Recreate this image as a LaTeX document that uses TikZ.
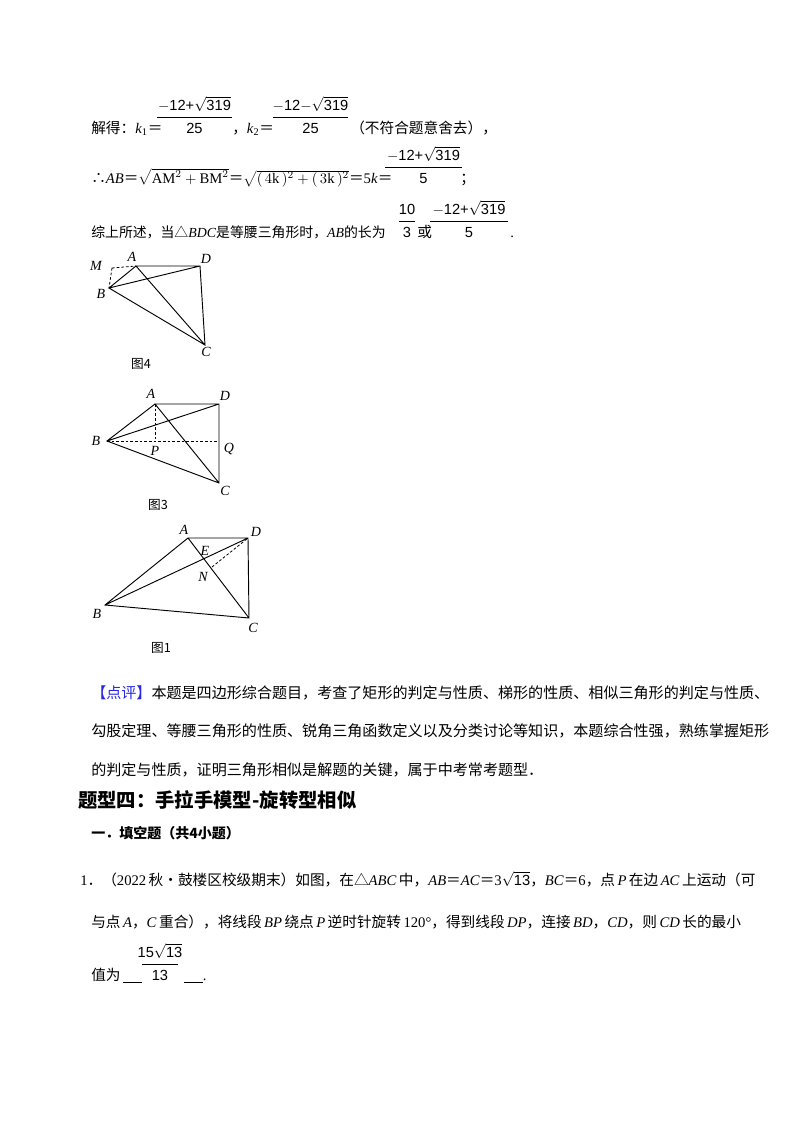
\documentclass[tikz,border=0pt]{standalone}
\usepackage{fontspec}
\setmainfont{Liberation Serif}
\newfontfamily\zh{Noto Sans CJK SC}
\newfontfamily\ar{Liberation Sans}
\usetikzlibrary{calc}
\newcommand\fracat[5]{%
  \node[tx,anchor=base] (n#1) at ({(#1+#2)/2},{#3-23}) {\ar #4};
  \draw[line width=0.6pt] (#1,{#3-16}) -- (#2,{#3-16});
  \node[tx,anchor=base] (d#1) at ({(#1+#2)/2},#3) {\ar #5};}
\newcommand\sq[1]{$\sqrt{\hbox{#1}}$}
\newcommand\tri{{\zh △}}
\begin{document}
\begin{tikzpicture}[x=0.75pt,y=-0.75pt,
  tx/.style={inner sep=0pt,font=\fontsize{11}{13}\selectfont},
  txl/.style={tx,anchor=base west},
  lab/.style={inner sep=0pt,font=\fontsize{10.5}{12}\selectfont\itshape},
  figcap/.style={inner sep=0pt,font=\zh\fontsize{9.5}{11}\selectfont},
  seg/.style={line width=0.7pt},
  dsh/.style={line width=0.6pt,dash pattern=on 2pt off 1.5pt}]
\useasboundingbox (0,0) rectangle (800,1132);
\fill[white] (0,0) rectangle (800,1132);
% line 1
\node[txl] (l1a) at (91,133) {{\zh 解得：}\textit{k}\textsubscript{1}{\zh＝}};
\fracat{157}{232}{133}{\(-\)12+\sq{319}}{25}
\node[txl] (l1b) at (232,133) {{\zh ，}\textit{k}\textsubscript{2}{\zh＝}};
\fracat{273}{348}{133}{\(-\)12\(-\)\sq{319}}{25}
\node[txl] (l1c) at (350,133) {\zh （不符合题意舍去），};
% line 2
\node[txl] (l2a) at (91,183) {{\zh ∴}\textit{AB}{\zh＝}$\sqrt{\mathrm{AM}^2+\mathrm{BM}^2}${\zh＝}$\sqrt{(\,4\mathrm{k}\,)^2+(\,3\mathrm{k}\,)^2}${\zh＝}5\textit{k}{\zh＝}};
\fracat{385}{462}{183}{\(-\)12+\sq{319}}{5}
\node[txl] (l2b) at (460,183) {\zh ；};
% line 3
\node[txl,font=\fontsize{10.4}{12}\selectfont] (l3a) at (91,237) {{\zh 综上所述，当}\tri\textit{BDC}{\zh 是等腰三角形时，}\textit{AB}{\zh 的长为}};
\fracat{399}{415}{237}{10}{3}
\node[txl] (l3b) at (417,237) {\zh 或};
\fracat{430}{508}{237}{\(-\)12+\sq{319}}{5}
\node[txl] (l3c) at (510,237) {.};
% fig 4
\coordinate (M4) at (112,268); \coordinate (A4) at (136,266); \coordinate (D4) at (200,266);
\coordinate (B4) at (109,288); \coordinate (C4) at (205,345);
\draw[dsh] (M4)--(A4) (M4)--(B4);
\draw[seg] (A4)--(D4)--(C4)--(B4)--(A4)--(C4) (B4)--(D4);
\node[lab] (lM4) at (96,266) {M}; \node[lab] (lA4) at (132,257) {A};
\node[lab] (lD4) at (206,259) {D}; \node[lab] (lB4) at (101,294) {B};
\node[lab] (lC4) at (206,352) {C}; \node[figcap] (c4) at (141,364) {图4};
% fig 3
\coordinate (A3) at (155,404); \coordinate (D3) at (219,404); \coordinate (B3) at (107,441);
\coordinate (P3) at (155,441); \coordinate (Q3) at (219,441); \coordinate (C3) at (219,483);
\draw[dsh] (A3)--(P3) (B3)--(Q3);
\draw[seg] (A3)--(D3)--(C3)--(B3)--(A3)--(C3) (B3)--(D3);
\node[lab] (lA3) at (151,394) {A}; \node[lab] (lD3) at (225,396) {D};
\node[lab] (lB3) at (96,441) {B}; \node[lab] (lP3) at (155,451) {P};
\node[lab] (lQ3) at (229,449) {Q}; \node[lab] (lC3) at (225,491) {C};
\node[figcap] (c3) at (158,505) {图3};
% fig 1
\coordinate (A1) at (188,538); \coordinate (D1) at (248,538); \coordinate (B1) at (105,605);
\coordinate (C1) at (249,618); \coordinate (N1) at (212,567);
\draw[dsh] (N1)--(D1);
\draw[seg] (A1)--(D1)--(C1)--(B1)--(A1)--(C1) (B1)--(D1);
\node[lab] (lA1) at (184,530) {A}; \node[lab] (lD1) at (256,532) {D};
\node[lab] (lE1) at (205,551) {E}; \node[lab] (lN1) at (203,577) {N};
\node[lab] (lB1) at (97,614) {B}; \node[lab] (lC1) at (253,628) {C};
\node[figcap] (c1) at (161,648) {图1};
% comment
\node[txl,font=\fontsize{11.3}{13}\selectfont] (p1) at (91,698) {\zh {\color[RGB]{40,40,230}【点评】}本题是四边形综合题目，考查了矩形的判定与性质、梯形的性质、相似三角形的判定与性质、};
\node[txl,font=\fontsize{11.3}{13}\selectfont] (p2) at (91,736) {\zh 勾股定理、等腰三角形的性质、锐角三角函数定义以及分类讨论等知识，本题综合性强，熟练掌握矩形};
\node[txl,font=\fontsize{11.3}{13}\selectfont] (p3) at (91,775) {\zh 的判定与性质，证明三角形相似是解题的关键，属于中考常考题型．};
\node[txl,font=\zh\bfseries\fontsize{14.5}{16}\selectfont] (h1) at (78,807) {题型四：手拉手模型-旋转型相似};
\node[txl,font=\zh\bfseries\fontsize{10.5}{12}\selectfont] (h2) at (91,838) {一．填空题（共4小题）};
% question
\node[txl] (q1) at (80,885) {1{\zh ．（}2022\,{\zh 秋•鼓楼区校级期末）如图，在}\tri\textit{ABC}\,{\zh 中，}\textit{AB}{\zh＝}\textit{AC}{\zh＝}3\sq{\ar 13}{\zh，}\textit{BC}{\zh＝}6{\zh，点}\,\textit{P}\,{\zh 在边}\,\textit{AC}\,{\zh 上运动（可}};
\node[txl] (q2) at (91,927) {{\zh 与点}\,\textit{A}{\zh，}\textit{C}\,{\zh 重合），将线段}\,\textit{BP}\,{\zh 绕点}\,\textit{P}\,{\zh 逆时针旋转}\,120°{\zh，得到线段}\,\textit{DP}{\zh，连接}\,\textit{BD}{\zh，}\textit{CD}{\zh，则}\,\textit{CD}\,{\zh 长的最小}};
\node[txl] (q3) at (91,980) {{\zh 值为}\,\underline{\hspace{14pt}}};
\fracat{142}{178}{980}{15\sq{13}}{13}
\node[txl] (q4) at (184,980) {\underline{\hspace{14pt}}.};
\end{tikzpicture}
\end{document}
